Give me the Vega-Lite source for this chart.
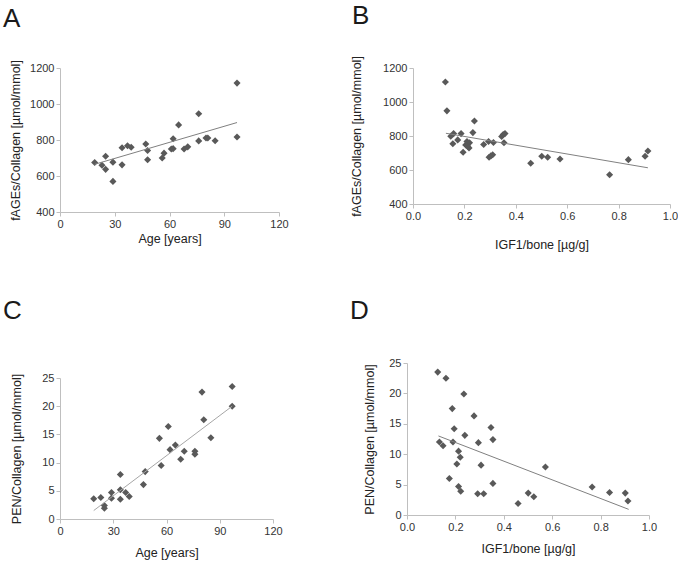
{
  "$schema": "https://vega.github.io/schema/vega-lite/v6.json",
  "background": "white",
  "padding": {"left": 3, "top": 2, "right": 5, "bottom": 5},
  "datasets": {
    "A": [
      {"age": 19, "fages": 675}, {"age": 23, "fages": 660}, {"age": 25, "fages": 710}, {"age": 25, "fages": 637},
      {"age": 29, "fages": 677}, {"age": 29, "fages": 570}, {"age": 34, "fages": 757}, {"age": 34, "fages": 662},
      {"age": 37, "fages": 768}, {"age": 39, "fages": 760}, {"age": 47, "fages": 778}, {"age": 48, "fages": 742},
      {"age": 48, "fages": 690}, {"age": 56, "fages": 700}, {"age": 57, "fages": 727}, {"age": 61, "fages": 750},
      {"age": 62, "fages": 752}, {"age": 62, "fages": 807}, {"age": 65, "fages": 884}, {"age": 68, "fages": 750},
      {"age": 70, "fages": 762}, {"age": 76, "fages": 946}, {"age": 76, "fages": 795}, {"age": 80, "fages": 811},
      {"age": 81, "fages": 811}, {"age": 85, "fages": 796}, {"age": 97, "fages": 1116}, {"age": 97, "fages": 817}
    ],
    "A_fit": [{"age": 19, "fages": 665}, {"age": 97, "fages": 897}],
    "B": [
      {"igf1": 0.126, "fages": 1118}, {"igf1": 0.132, "fages": 948}, {"igf1": 0.147, "fages": 799}, {"igf1": 0.158, "fages": 814},
      {"igf1": 0.155, "fages": 754}, {"igf1": 0.174, "fages": 777}, {"igf1": 0.187, "fages": 814}, {"igf1": 0.195, "fages": 704},
      {"igf1": 0.205, "fages": 747}, {"igf1": 0.21, "fages": 768}, {"igf1": 0.213, "fages": 739}, {"igf1": 0.22, "fages": 760},
      {"igf1": 0.218, "fages": 729}, {"igf1": 0.233, "fages": 820}, {"igf1": 0.239, "fages": 888}, {"igf1": 0.275, "fages": 750},
      {"igf1": 0.294, "fages": 768}, {"igf1": 0.296, "fages": 675}, {"igf1": 0.303, "fages": 683}, {"igf1": 0.31, "fages": 690},
      {"igf1": 0.313, "fages": 762}, {"igf1": 0.345, "fages": 797}, {"igf1": 0.351, "fages": 809}, {"igf1": 0.358, "fages": 814},
      {"igf1": 0.354, "fages": 760}, {"igf1": 0.458, "fages": 640}, {"igf1": 0.501, "fages": 681}, {"igf1": 0.524, "fages": 675},
      {"igf1": 0.572, "fages": 665}, {"igf1": 0.765, "fages": 572}, {"igf1": 0.838, "fages": 661}, {"igf1": 0.903, "fages": 681},
      {"igf1": 0.914, "fages": 712}
    ],
    "B_fit": [{"igf1": 0.128, "fages": 816}, {"igf1": 0.914, "fages": 613}],
    "C": [
      {"age": 19, "pen": 3.6}, {"age": 23, "pen": 3.8}, {"age": 25, "pen": 2.4}, {"age": 25, "pen": 1.9},
      {"age": 29, "pen": 4.7}, {"age": 29, "pen": 3.7}, {"age": 34, "pen": 7.9}, {"age": 34, "pen": 5.2},
      {"age": 34, "pen": 3.5}, {"age": 37, "pen": 4.7}, {"age": 39, "pen": 4.0}, {"age": 47, "pen": 6.1},
      {"age": 48, "pen": 8.4}, {"age": 56, "pen": 14.3}, {"age": 57, "pen": 9.5}, {"age": 61, "pen": 16.4},
      {"age": 62, "pen": 12.3}, {"age": 65, "pen": 13.1}, {"age": 68, "pen": 10.6}, {"age": 70, "pen": 12.0},
      {"age": 76, "pen": 12.0}, {"age": 76, "pen": 11.5}, {"age": 80, "pen": 22.5}, {"age": 81, "pen": 17.6},
      {"age": 85, "pen": 14.4}, {"age": 97, "pen": 23.5}, {"age": 97, "pen": 20.0}
    ],
    "C_fit": [{"age": 19, "pen": 1.5}, {"age": 97, "pen": 20.0}],
    "D": [
      {"igf1": 0.127, "pen": 23.5}, {"igf1": 0.161, "pen": 22.5}, {"igf1": 0.235, "pen": 19.9}, {"igf1": 0.187, "pen": 17.5},
      {"igf1": 0.277, "pen": 16.3}, {"igf1": 0.195, "pen": 14.2}, {"igf1": 0.347, "pen": 14.4}, {"igf1": 0.239, "pen": 13.1},
      {"igf1": 0.355, "pen": 12.4}, {"igf1": 0.134, "pen": 12.0}, {"igf1": 0.149, "pen": 11.4}, {"igf1": 0.19, "pen": 12.0},
      {"igf1": 0.295, "pen": 11.9}, {"igf1": 0.213, "pen": 10.5}, {"igf1": 0.22, "pen": 9.5}, {"igf1": 0.206, "pen": 8.4},
      {"igf1": 0.306, "pen": 8.2}, {"igf1": 0.175, "pen": 6.0}, {"igf1": 0.572, "pen": 7.9}, {"igf1": 0.355, "pen": 5.2},
      {"igf1": 0.213, "pen": 4.7}, {"igf1": 0.222, "pen": 3.9}, {"igf1": 0.292, "pen": 3.5}, {"igf1": 0.317, "pen": 3.5},
      {"igf1": 0.459, "pen": 1.9}, {"igf1": 0.501, "pen": 3.6}, {"igf1": 0.524, "pen": 3.0}, {"igf1": 0.765, "pen": 4.6},
      {"igf1": 0.837, "pen": 3.7}, {"igf1": 0.902, "pen": 3.6}, {"igf1": 0.913, "pen": 2.3}
    ],
    "D_fit": [{"igf1": 0.13, "pen": 13.0}, {"igf1": 0.916, "pen": 0.93}]
  },
  "columns": 2,
  "align": "none",
  "spacing": {"row": 47, "column": 61},
  "concat": [
    {
      "title": {"text": "A", "dx": -57, "offset": 28},
      "width": 219, "height": 144,
      "encoding": {
        "x": {"field": "age", "type": "quantitative", "scale": {"domain": [0, 120], "nice": false},
              "axis": {"title": "Age [years]", "values": [0, 30, 60, 90, 120], "format": "d", "titlePadding": 3}},
        "y": {"field": "fages", "type": "quantitative", "scale": {"domain": [400, 1200], "nice": false, "zero": false},
              "axis": {"title": "fAGEs/Collagen [µmol/mmol]", "values": [400, 600, 800, 1000, 1200], "format": "d", "titlePadding": 7}}
      },
      "layer": [
        {"data": {"name": "A"}, "mark": {"type": "point", "shape": "diamond", "filled": true, "size": 50, "color": "#595959", "opacity": 1}},
        {"data": {"name": "A_fit"}, "mark": {"type": "line", "color": "#808080", "strokeWidth": 1}, "encoding": {}}
      ]
    },
    {
      "title": {"text": "B", "dx": -61, "offset": 27},
      "width": 257, "height": 136,
      "encoding": {
        "x": {"field": "igf1", "type": "quantitative", "scale": {"domain": [0, 1], "nice": false},
              "axis": {"title": "IGF1/bone [µg/g]", "values": [0, 0.2, 0.4, 0.6, 0.8, 1.0], "format": ".1f", "titlePadding": 17}},
        "y": {"field": "fages", "type": "quantitative", "scale": {"domain": [400, 1200], "nice": false, "zero": false},
              "axis": {"title": "fAGEs/Collagen [µmol/mmol]", "values": [400, 600, 800, 1000, 1200], "format": "d", "titlePadding": 19}}
      },
      "layer": [
        {"data": {"name": "B"}, "mark": {"type": "point", "shape": "diamond", "filled": true, "size": 50, "color": "#595959", "opacity": 1}},
        {"data": {"name": "B_fit"}, "mark": {"type": "line", "color": "#808080", "strokeWidth": 1}, "encoding": {}}
      ]
    },
    {
      "title": {"text": "C", "dx": -57, "offset": 48},
      "width": 213, "height": 141,
      "encoding": {
        "x": {"field": "age", "type": "quantitative", "scale": {"domain": [0, 120], "nice": false},
              "axis": {"title": "Age [years]", "values": [0, 30, 60, 90, 120], "format": "d", "titlePadding": 10}},
        "y": {"field": "pen", "type": "quantitative", "scale": {"domain": [0, 25], "nice": false},
              "axis": {"title": "PEN/Collagen [µmol/mmol]", "values": [0, 5, 10, 15, 20, 25], "format": "d", "titlePadding": 18}}
      },
      "layer": [
        {"data": {"name": "C"}, "mark": {"type": "point", "shape": "diamond", "filled": true, "size": 50, "color": "#595959", "opacity": 1}},
        {"data": {"name": "C_fit"}, "mark": {"type": "line", "color": "#a6a6a6", "strokeWidth": 1}, "encoding": {}}
      ]
    },
    {
      "title": {"text": "D", "dx": -57, "offset": 33},
      "width": 242, "height": 152,
      "encoding": {
        "x": {"field": "igf1", "type": "quantitative", "scale": {"domain": [0, 1], "nice": false},
              "axis": {"title": "IGF1/bone [µg/g]", "values": [0, 0.2, 0.4, 0.6, 0.8, 1.0], "format": ".1f", "titlePadding": 10}},
        "y": {"field": "pen", "type": "quantitative", "scale": {"domain": [0, 25], "nice": false},
              "axis": {"title": "PEN/Collagen [µmol/mmol]", "values": [0, 5, 10, 15, 20, 25], "format": "d", "titlePadding": 12}}
      },
      "layer": [
        {"data": {"name": "D"}, "mark": {"type": "point", "shape": "diamond", "filled": true, "size": 50, "color": "#595959", "opacity": 1}},
        {"data": {"name": "D_fit"}, "mark": {"type": "line", "color": "#808080", "strokeWidth": 1}, "encoding": {}}
      ]
    }
  ],
  "config": {
    "view": {"stroke": null},
    "axis": {
      "grid": false,
      "domainColor": "#bfbfbf",
      "tickColor": "#bfbfbf",
      "tickSize": 4,
      "labelFont": "Liberation Sans",
      "titleFont": "Liberation Sans",
      "labelFontSize": 11,
      "titleFontSize": 12.5,
      "titleFontWeight": "normal",
      "labelColor": "#333333",
      "titleColor": "#222222",
      "labelPadding": 2,
      "labelFlush": false,
      "labelOverlap": false
    },
    "title": {
      "font": "Liberation Sans",
      "fontSize": 26,
      "fontWeight": "normal",
      "anchor": "start",
      "frame": "group",
      "baseline": "alphabetic",
      "color": "#1a1a1a"
    }
  }
}
